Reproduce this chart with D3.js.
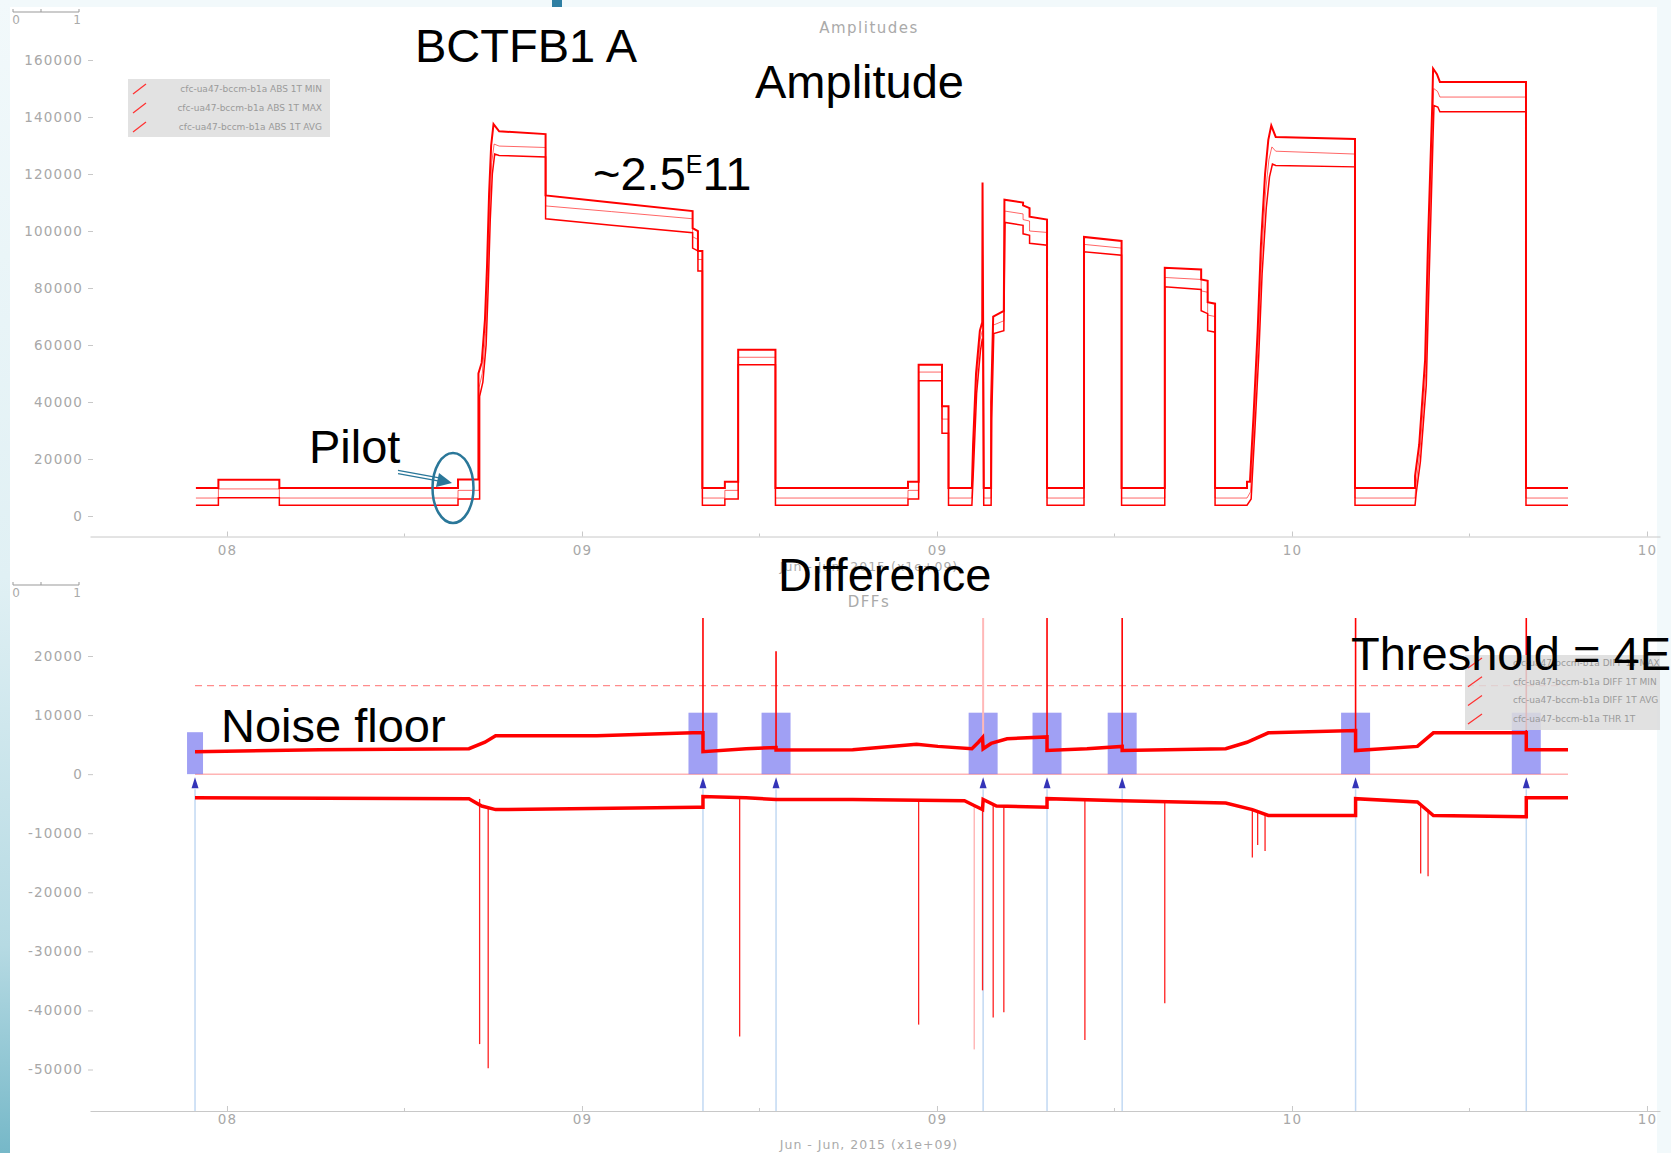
<!DOCTYPE html>
<html>
<head>
<meta charset="utf-8">
<script src="https://cdn.jsdelivr.net/npm/d3@7"></script>
<style>
body{margin:0;background:#fff;}
svg{display:block;}
.tick text{font-family:"DejaVu Sans",sans-serif;font-size:13.5px;fill:#a8a8a8;letter-spacing:1.2px;}
.tick line,.domain{stroke:#c8c8c8;}
.note{font-family:"Liberation Sans",Arial,sans-serif;font-size:47px;fill:#000;}
.gray{font-family:"DejaVu Sans",sans-serif;fill:#aaa;}
.leg{font-family:"DejaVu Sans",sans-serif;font-size:9px;fill:#9a9a9a;}
</style>
</head>
<body>
<svg id="chart"></svg>
<script>
// tick values / labels
var ampTicks = [0, 20000, 40000, 60000, 80000, 100000, 120000, 140000, 160000];
var diffTicks = [20000, 10000, 0, -10000, -20000, -30000, -40000, -50000];
var xTickHours = [0, 12, 24, 36, 48];
var xTickLabels = ["08", "09", "09", "10", "10"];
var xMinorHours = [6, 18, 30, 42];

var ampLegend = ["cfc-ua47-bccm-b1a ABS 1T MIN", "cfc-ua47-bccm-b1a ABS 1T MAX", "cfc-ua47-bccm-b1a ABS 1T AVG"];
var diffLegend = ["cfc-ua47-bccm-b1a DIFF 1T MAX", "cfc-ua47-bccm-b1a DIFF 1T MIN", "cfc-ua47-bccm-b1a DIFF 1T AVG", "cfc-ua47-bccm-b1a THR 1T"];

// amplitudes, [hour from Jun 08 12:00, value]
var ampMax = [[-1.05,9800],[-0.29,9800],[-0.29,12700],[1.77,12700],[1.77,9800],[7.81,9800],[7.81,12800],[8.50,12800],[8.50,50000],[8.61,53800],[8.72,68800],[8.79,87500],[8.86,113000],[8.93,130000],[9.01,137500],[9.20,135000],[10.77,134000],[10.77,112500],[13.0,110000],[15.74,107000],[15.74,101000],[15.92,100000],[15.92,93000],[16.07,93000],[16.07,9800],[16.83,9800],[16.83,12000],[17.28,12000],[17.28,58300],[18.54,58300],[18.54,9800],[23.02,9800],[23.02,12000],[23.38,12000],[23.38,53100],[24.17,53100],[24.17,38500],[24.39,38500],[24.39,9800],[25.18,9800],[25.22,25000],[25.32,50000],[25.45,65000],[25.53,68000],[25.54,117000],[25.56,68000],[25.58,9800],[25.83,9800],[25.83,40000],[25.90,70000],[26.26,72000],[26.28,111000],[26.91,110000],[26.91,109000],[27.13,108000],[27.13,105000],[27.72,104000],[27.72,9800],[28.97,9800],[28.97,97900],[30.24,96500],[30.24,9800],[31.70,9800],[31.70,87100],[32.93,86500],[32.93,83000],[33.15,82500],[33.15,75000],[33.40,74500],[33.40,9800],[34.48,9800],[34.48,12000],[34.58,12000],[34.62,20000],[34.70,35000],[34.84,65000],[34.95,95000],[35.09,120000],[35.20,132000],[35.30,137000],[35.45,133000],[38.13,132300],[38.13,9800],[40.16,9800],[40.16,14000],[40.30,25000],[40.50,54700],[40.60,96800],[40.74,143500],[40.77,157000],[40.90,155000],[41.00,152300],[43.91,152300],[43.91,9800],[45.33,9800]];
var ampAvg = [[-1.05,6300],[-0.29,6300],[-0.29,9500],[1.77,9500],[1.77,6300],[7.81,6300],[7.81,9000],[8.52,9000],[8.52,45000],[8.63,50000],[8.74,64000],[8.81,84000],[8.88,108000],[8.95,124000],[9.03,130500],[9.20,129800],[10.77,129300],[10.77,108800],[13.0,106800],[15.74,104300],[15.74,98000],[15.92,97000],[15.92,90000],[16.07,90000],[16.07,6300],[16.83,6300],[16.83,9000],[17.28,9000],[17.28,55700],[18.54,55700],[18.54,6300],[23.02,6300],[23.02,9000],[23.38,9000],[23.38,50500],[24.17,50500],[24.17,34000],[24.39,34000],[24.39,6300],[25.18,6300],[25.23,22000],[25.33,47000],[25.46,62000],[25.53,65000],[25.56,65000],[25.58,6300],[25.83,6300],[25.84,37000],[25.91,67000],[26.26,68500],[26.29,107000],[26.91,106000],[26.91,104000],[27.13,103500],[27.13,100000],[27.72,99500],[27.72,6300],[28.97,6300],[28.97,95300],[30.24,94000],[30.24,6300],[31.70,6300],[31.70,83700],[32.93,83000],[32.93,79000],[33.15,78500],[33.15,70500],[33.40,70000],[33.40,6300],[34.48,6300],[34.60,8500],[34.64,17000],[34.72,32000],[34.86,61000],[34.97,90000],[35.11,114000],[35.22,125000],[35.32,129500],[35.45,128000],[38.13,127000],[38.13,6300],[40.16,6300],[40.18,10000],[40.32,22000],[40.52,50000],[40.62,90000],[40.75,137000],[40.79,150000],[40.92,149000],[41.00,147000],[43.91,147000],[43.91,6300],[45.33,6300]];
var ampMin = [[-1.05,3800],[-0.29,3800],[-0.29,6400],[1.77,6400],[1.77,3800],[7.81,3800],[7.81,6000],[8.54,6000],[8.54,42000],[8.65,47000],[8.76,60000],[8.83,80000],[8.90,104000],[8.97,120000],[9.05,127000],[9.20,126500],[10.77,126000],[10.77,104300],[13.0,102000],[15.74,99400],[15.74,94000],[15.92,93000],[15.92,86000],[16.07,86000],[16.07,3800],[16.83,3800],[16.83,6000],[17.28,6000],[17.28,53100],[18.54,53100],[18.54,3800],[23.02,3800],[23.02,6000],[23.38,6000],[23.38,47500],[24.17,47500],[24.17,29000],[24.39,29000],[24.39,3800],[25.18,3800],[25.24,18000],[25.34,43000],[25.47,58000],[25.53,62000],[25.56,62000],[25.58,3800],[25.83,3800],[25.85,34000],[25.92,64000],[26.26,65000],[26.30,103000],[26.91,102000],[26.91,99000],[27.13,98500],[27.13,95700],[27.72,95000],[27.72,3800],[28.97,3800],[28.97,92700],[30.24,91500],[30.24,3800],[31.70,3800],[31.70,80400],[32.93,79500],[32.93,72000],[33.15,71000],[33.15,65000],[33.40,64500],[33.40,3800],[34.48,3800],[34.62,6000],[34.66,14000],[34.74,29000],[34.88,57000],[34.99,85000],[35.13,108000],[35.24,119000],[35.34,123500],[35.45,123000],[38.13,122500],[38.13,3800],[40.16,3800],[40.20,8000],[40.34,19000],[40.54,46000],[40.64,85000],[40.76,130000],[40.80,144000],[40.93,143500],[41.00,141800],[43.91,141800],[43.91,3800],[45.33,3800]];

// differences
var diffPos = [[-1.08,3800],[3.13,4150],[8.18,4300],[8.72,5400],[9.08,6500],[12.50,6500],[15.74,7000],[16.09,7000],[16.09,3800],[17.55,4300],[18.56,4500],[18.56,4100],[21.15,4150],[23.31,5050],[24.03,4700],[25.18,4300],[25.40,5400],[25.54,6200],[25.56,4300],[25.83,5200],[26.37,6000],[27.72,6300],[27.72,4000],[29.07,4300],[30.26,4700],[30.26,4000],[33.76,4300],[34.48,5400],[35.20,7000],[38.15,7400],[38.15,4000],[40.24,4700],[40.78,7000],[43.92,7000],[43.92,4150],[45.33,4150]];
var diffNeg = [[-1.08,-4000],[8.18,-4150],[8.61,-5400],[9.08,-6000],[15.90,-5600],[16.09,-5600],[16.09,-3800],[17.55,-4000],[18.56,-4300],[21.15,-4300],[24.93,-4500],[25.29,-5400],[25.54,-6000],[25.56,-4300],[26.01,-5400],[27.72,-5600],[27.72,-4150],[30.26,-4500],[33.76,-4900],[34.66,-6000],[35.20,-7000],[38.15,-7000],[38.15,-4150],[40.24,-4700],[40.78,-7000],[43.92,-7200],[43.92,-4000],[45.33,-4000]];
var upSpikes = [[16.09,7000,26500],[18.56,4300,20800],[27.72,6300,26500],[30.26,4700,26500],[38.15,7400,26500],[43.92,7000,26500]];
var faintUpSpikes = [[25.56,4300,26500]];
var downSpikes = [[8.54,-4200,-45700],[8.83,-5600,-49800],[17.33,-4000,-44400],[23.38,-4500,-42400],[25.54,-6000,-36600],[25.90,-5200,-41200],[26.26,-5400,-40300],[29.00,-4300,-45000],[31.70,-4600,-38800],[34.66,-6000,-14100],[34.84,-6400,-12000],[35.09,-6800,-13000],[40.35,-5000,-16800],[40.60,-6000,-17300]];
var faintDownSpikes = [[25.26,-5200,-46600]];
var threshold = 15000;
var events = [-1.08, 16.09, 18.56, 25.56, 27.72, 30.26, 38.15, 43.92];
var eventLevels = [7100, 10400, 10400, 10400, 10400, 10400, 10400, 10400];
var dataStart = -1.08, dataEnd = 45.33;

var W = 1671, H = 1153;
var svg = d3.select("#chart").attr("width", W).attr("height", H);
var defs = svg.append("defs");

// slide background
var grad = defs.append("linearGradient").attr("id", "leftStrip")
    .attr("x1", 0).attr("y1", 0).attr("x2", 0).attr("y2", 1);
[["0%", "#f2f9fb"], ["50%", "#e0f0f4"], ["82%", "#b6dae3"], ["100%", "#76b8c8"]].forEach(function(s){
    grad.append("stop").attr("offset", s[0]).attr("stop-color", s[1]);
});
svg.append("rect").attr("width", W).attr("height", H).attr("fill", "#f2f9fb");
svg.append("rect").attr("x", 0).attr("y", 0).attr("width", 10).attr("height", H).attr("fill", "url(#leftStrip)");
svg.append("rect").attr("x", 10).attr("y", 7).attr("width", 1647).attr("height", H - 7).attr("fill", "#fff");
svg.append("rect").attr("x", 552).attr("y", 0).attr("width", 10).attr("height", 7).attr("fill", "#2f7fa3");

var x = d3.scaleLinear().domain([-4.63, 48.44]).range([90, 1660]);
var yA = d3.scaleLinear().domain([0, 160000]).range([516, 60]);
var yD = d3.scaleLinear().domain([-50000, 20000]).range([1069.5, 656]);

defs.append("clipPath").attr("id", "clipD").append("rect")
    .attr("x", 90).attr("y", 618).attr("width", 1570).attr("height", 493);

// scale bar "0 1"
function scaleBar(y){
    var g = svg.append("g").attr("class", "gray");
    g.append("line").attr("x1", 13).attr("x2", 79).attr("y1", y).attr("y2", y).attr("stroke", "#999").attr("stroke-width", 1.2);
    [13, 41, 79].forEach(function(px){
        g.append("line").attr("x1", px).attr("x2", px).attr("y1", y - 3).attr("y2", y).attr("stroke", "#999");
    });
    g.append("text").attr("x", 16).attr("y", y + 12).attr("text-anchor", "middle").attr("font-size", 12).text("0");
    g.append("text").attr("x", 77).attr("y", y + 12).attr("text-anchor", "middle").attr("font-size", 12).text("1");
}
scaleBar(12);
scaleBar(585);

function leftAxis(scale, ticks){
    svg.append("g").attr("transform", "translate(93,0)")
        .call(d3.axisLeft(scale).tickValues(ticks).tickSize(5).tickPadding(5).tickFormat(function(d){ return String(d); }))
        .call(function(g){ g.select(".domain").remove(); });
}
function bottomAxis(y, pad){
    svg.append("g").attr("transform", "translate(0," + y + ")")
        .call(d3.axisBottom(x).tickValues(xTickHours).tickSizeInner(-5).tickSizeOuter(0).tickPadding(pad)
            .tickFormat(function(d, i){ return xTickLabels[i]; }));
    svg.append("g").selectAll("line").data(xMinorHours).enter().append("line")
        .attr("x1", function(d){ return x(d); }).attr("x2", function(d){ return x(d); })
        .attr("y1", y - 3).attr("y2", y).attr("stroke", "#c8c8c8");
}

// ---------- Amplitudes ----------
svg.append("text").attr("class", "gray").attr("x", 869).attr("y", 33).attr("text-anchor", "middle")
    .attr("font-size", 15).attr("letter-spacing", 1.5).text("Amplitudes");
leftAxis(yA, ampTicks);
bottomAxis(536.5, 9);
svg.append("text").attr("class", "gray").attr("x", 869).attr("y", 571).attr("text-anchor", "middle")
    .attr("font-size", 12.5).attr("letter-spacing", 1).text("Jun - Jun, 2015 (x1e+09)");

var lineA = d3.line().x(function(d){ return x(d[0]); }).y(function(d){ return yA(d[1]); });
svg.append("path").datum(ampAvg).attr("d", lineA).attr("fill", "none").attr("stroke", "#ff0000").attr("stroke-width", 1).attr("stroke-opacity", 0.6);
svg.append("path").datum(ampMin).attr("d", lineA).attr("fill", "none").attr("stroke", "#ff0000").attr("stroke-width", 1.5);
svg.append("path").datum(ampMax).attr("d", lineA).attr("fill", "none").attr("stroke", "#ff0000").attr("stroke-width", 2);

// legend
var legA = svg.append("g");
legA.append("rect").attr("x", 128).attr("y", 79).attr("width", 202).attr("height", 58).attr("fill", "#e2e2e2");
ampLegend.forEach(function(t, i){
    var yy = 89 + i * 19;
    legA.append("line").attr("x1", 133).attr("y1", yy + 5).attr("x2", 146).attr("y2", yy - 5).attr("stroke", "#ff3030").attr("stroke-width", 1.2);
    legA.append("text").attr("class", "leg").attr("x", 322).attr("y", yy + 3).attr("text-anchor", "end").text(t);
});

// ---------- DFFs ----------
svg.append("text").attr("class", "gray").attr("x", 869).attr("y", 607).attr("text-anchor", "middle")
    .attr("font-size", 15).attr("letter-spacing", 1.5).text("DFFs");
leftAxis(yD, diffTicks);
bottomAxis(1111, 3);
svg.append("text").attr("class", "gray").attr("x", 869).attr("y", 1149).attr("text-anchor", "middle")
    .attr("font-size", 12.5).attr("letter-spacing", 1).text("Jun - Jun, 2015 (x1e+09)");

var plotD = svg.append("g").attr("clip-path", "url(#clipD)");
// event lines
plotD.selectAll(".evline").data(events).enter().append("line")
    .attr("x1", function(d){ return x(d); }).attr("x2", function(d){ return x(d); })
    .attr("y1", yD(0) + 15).attr("y2", 1111).attr("stroke", "#c2d9f3").attr("stroke-width", 1.5);
// threshold and zero
plotD.append("line").attr("x1", x(dataStart)).attr("x2", 1568).attr("y1", yD(threshold)).attr("y2", yD(threshold))
    .attr("stroke", "#ff8c8c").attr("stroke-width", 1.2).attr("stroke-dasharray", "7,5");
plotD.append("line").attr("x1", x(dataStart)).attr("x2", x(dataEnd)).attr("y1", yD(0)).attr("y2", yD(0))
    .attr("stroke", "#ffb4b4").attr("stroke-width", 1.5);
// event boxes
plotD.selectAll(".evbox").data(events).enter().append("rect")
    .attr("x", function(d, i){ return x(d - (i === 0 ? 0.27 : 0.49)); })
    .attr("width", function(d, i){ return x(i === 0 ? 0.54 : 0.98) - x(0); })
    .attr("y", function(d, i){ return yD(eventLevels[i]); })
    .attr("height", function(d, i){ return yD(0) - yD(eventLevels[i]); })
    .attr("fill", "#7878f0").attr("fill-opacity", 0.7);
plotD.selectAll(".evtri").data(events).enter().append("path")
    .attr("d", function(d){ var cx = x(d), y0 = yD(0); return "M" + (cx - 3.5) + "," + (y0 + 14) + "L" + (cx + 3.5) + "," + (y0 + 14) + "L" + cx + "," + (y0 + 3) + "Z"; })
    .attr("fill", "#3434b8");
// spikes
function spikes(data, color, width){
    plotD.selectAll(null).data(data).enter().append("line")
        .attr("x1", function(d){ return x(d[0]); }).attr("x2", function(d){ return x(d[0]); })
        .attr("y1", function(d){ return yD(d[1]); }).attr("y2", function(d){ return yD(d[2]); })
        .attr("stroke", color).attr("stroke-width", width);
}
spikes(faintUpSpikes, "#ffb8b8", 2);
spikes(faintDownSpikes, "#ffb8b8", 1.5);
spikes(downSpikes, "#ff2020", 1.3);
spikes(upSpikes, "#ff0000", 1.6);
var lineD = d3.line().x(function(d){ return x(d[0]); }).y(function(d){ return yD(d[1]); });
plotD.append("path").datum(diffPos).attr("d", lineD).attr("fill", "none").attr("stroke", "#ff0000").attr("stroke-width", 3.5);
plotD.append("path").datum(diffNeg).attr("d", lineD).attr("fill", "none").attr("stroke", "#ff0000").attr("stroke-width", 3.5);

// legend DFFs
defs.append("clipPath").attr("id", "clipLeg").append("rect").attr("x", 1465).attr("y", 650).attr("width", 195).attr("height", 90);
var legD = svg.append("g").attr("clip-path", "url(#clipLeg)");
legD.append("rect").attr("x", 1465).attr("y", 655).attr("width", 200).attr("height", 75).attr("fill", "#dcdcdc").attr("fill-opacity", 0.85);
diffLegend.forEach(function(t, i){
    var yy = 663 + i * 18.7;
    legD.append("line").attr("x1", 1468).attr("y1", yy + 5).attr("x2", 1482).attr("y2", yy - 5).attr("stroke", "#ff3030").attr("stroke-width", 1.2);
    legD.append("text").attr("class", "leg").attr("x", 1513).attr("y", yy + 3).text(t);
});

// ---------- slide annotations ----------
var notes = svg.append("g");
notes.append("text").attr("class", "note").attr("x", 415).attr("y", 62).text("BCTFB1 A");
notes.append("text").attr("class", "note").attr("x", 755).attr("y", 98).text("Amplitude");
var sup = notes.append("text").attr("class", "note").attr("x", 593).attr("y", 190);
sup.append("tspan").text("~2.5");
sup.append("tspan").attr("font-size", 25).attr("dy", -17).text("E");
sup.append("tspan").attr("dy", 17).text("11");
notes.append("text").attr("class", "note").attr("x", 309).attr("y", 463).text("Pilot");
notes.append("text").attr("class", "note").attr("x", 778).attr("y", 591).text("Difference");
notes.append("text").attr("class", "note").attr("x", 221).attr("y", 742).text("Noise floor");
notes.append("text").attr("class", "note").attr("x", 1351).attr("y", 670).text("Threshold = 4E");

// pilot circle and arrow
var teal = "#2a7799";
notes.append("ellipse").attr("cx", 453).attr("cy", 488).attr("rx", 20.5).attr("ry", 35)
    .attr("fill", "none").attr("stroke", teal).attr("stroke-width", 2.5);
[-1.6, 1.6].forEach(function(o){
    notes.append("line").attr("x1", 398).attr("y1", 472 + o).attr("x2", 442).attr("y2", 480 + o)
        .attr("stroke", teal).attr("stroke-width", 1.2);
});
notes.append("path").attr("d", "M452,483 L439,473 L436,487 Z").attr("fill", teal);
</script>
</body>
</html>
